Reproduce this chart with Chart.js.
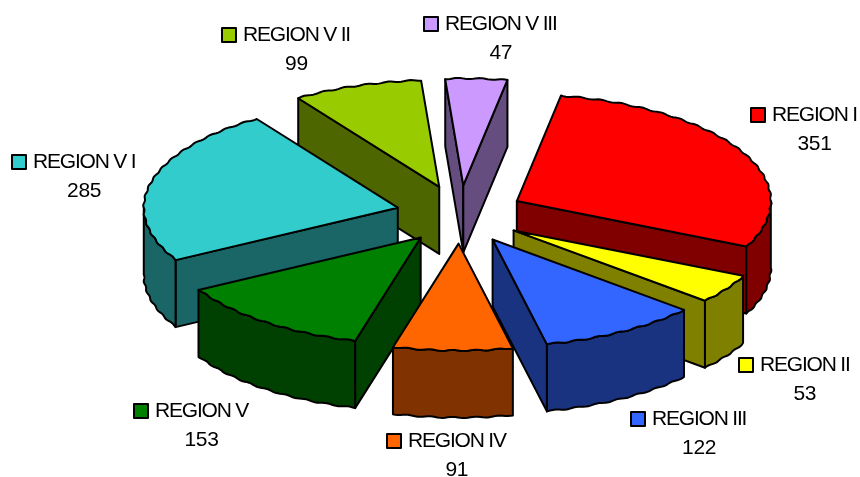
<!DOCTYPE html>
<html>
<head>
<meta charset="utf-8">
<title>Regiones</title>
<script src="https://cdn.jsdelivr.net/npm/chart.js@4/dist/chart.umd.min.js"></script>
<style>
    html, body { margin: 0; padding: 0; background: #fff; overflow: hidden; }
    canvas { display: block; }
</style>
</head>
<body>
<canvas id="regions-chart" width="860" height="477"></canvas>
<script>
    var categories = ['REGION I', 'REGION II', 'REGION III', 'REGION IV', 'REGION V', 'REGION V I', 'REGION V II', 'REGION V III'];
    var values = [351, 53, 122, 91, 153, 285, 99, 47];
    var sliceColors = ['#ff0000', '#ffff00', '#3366ff', '#ff6600', '#008000', '#33cccc', '#99cc00', '#cc99ff'];
    var wallColors = ['#800000', '#808000', '#1a3380', '#803300', '#004000', '#1a6666', '#4d6600', '#664d80'];
    // Top left corner of each legend square
    var labelCorners = [[751, 108], [739, 358], [631, 412], [387, 434], [134, 404], [12, 155], [222, 28], [424, 17]];

    var TILT = 0.421;          // squash of the pie plane
    var EXPLODE_TILT = 0.455;  // squash of the slice explosion
    var DEPTH = 67;            // wall height

    /**
     * Point on the top face of a slice (radius 0 is the slice apex)
     */
    function facePoint(arc, angle, radius, drop) {
        var mid = (arc.startAngle + arc.endAngle) / 2;
        var offset = arc.options.offset;
        var edge = radius > 0 ? Math.sin(angle * 70) * 0.6 : 0; // scalloped rim
        return {
            x: arc.x + Math.cos(mid) * offset + Math.cos(angle) * (radius + edge),
            y: arc.y + Math.sin(mid) * offset * EXPLODE_TILT + Math.sin(angle) * (radius * TILT + edge) + drop
        };
    }

    /**
     * Rim points between two angles
     */
    function rimPoints(arc, from, to, drop) {
        var points = [];
        var steps = Math.max(2, Math.ceil((to - from) / 0.01));
        for (var i = 0; i <= steps; i++) {
            points.push(facePoint(arc, from + (to - from) * i / steps, arc.outerRadius, drop));
        }
        return points;
    }

    function drawPolygon(ctx, points, fill) {
        ctx.beginPath();
        points.forEach(function(p, i) {
            if (i === 0) {
                ctx.moveTo(p.x, p.y);
            } else {
                ctx.lineTo(p.x, p.y);
            }
        });
        ctx.closePath();
        ctx.fillStyle = fill;
        ctx.fill();
        ctx.stroke();
    }

    function drawRadialWall(ctx, arc, angle, fill) {
        drawPolygon(ctx, [
            facePoint(arc, angle, 0, 0),
            facePoint(arc, angle, arc.outerRadius, 0),
            facePoint(arc, angle, arc.outerRadius, DEPTH),
            facePoint(arc, angle, 0, DEPTH)
        ], fill);
    }

    function drawSlice(ctx, arc, index) {
        var start = arc.startAngle;
        var end = arc.endAngle;
        var wall = wallColors[index];

        // Only the walls facing the viewer
        if (Math.cos(start) < 0) {
            drawRadialWall(ctx, arc, start, wall);
        }
        if (Math.cos(end) > 0) {
            drawRadialWall(ctx, arc, end, wall);
        }
        var low = Math.max(start, 0);
        var high = Math.min(end, Math.PI);
        if (high > low) {
            drawPolygon(ctx, rimPoints(arc, low, high, 0).concat(rimPoints(arc, low, high, DEPTH).reverse()), wall);
        }

        drawPolygon(ctx, [facePoint(arc, start, 0, 0)].concat(rimPoints(arc, start, end, 0)), arc.options.backgroundColor);
    }

    function drawLabels(ctx) {
        ctx.font = '21px "Liberation Sans"';
        ctx.textBaseline = 'alphabetic';
        categories.forEach(function(name, i) {
            var x = labelCorners[i][0];
            var y = labelCorners[i][1];

            ctx.lineWidth = 2;
            ctx.strokeStyle = '#000';
            ctx.fillStyle = sliceColors[i];
            ctx.fillRect(x, y, 14, 14);
            ctx.strokeRect(x, y, 14, 14);

            ctx.fillStyle = '#000';
            ctx.letterSpacing = '-1.2px';
            ctx.textAlign = 'left';
            ctx.fillText(name, x + 21, y + 13);
            var center = x + 21 + ctx.measureText(name).width / 2;
            ctx.letterSpacing = '-0.3px';
            ctx.textAlign = 'center';
            ctx.fillText(String(values[i]), center, y + 42);
        });
    }

    var pie3d = {
        id: 'pie3d',
        beforeDatasetsDraw: function(chart) {
            var ctx = chart.ctx;
            var arcs = chart.getDatasetMeta(0).data;

            // Paint from the back of the pie to the front
            var order = arcs.map(function(arc, i) { return i; });
            order.sort(function(a, b) {
                return Math.sin((arcs[a].startAngle + arcs[a].endAngle) / 2) - Math.sin((arcs[b].startAngle + arcs[b].endAngle) / 2);
            });

            ctx.save();
            ctx.lineWidth = 2;
            ctx.lineJoin = 'round';
            ctx.strokeStyle = '#000';
            order.forEach(function(i) {
                drawSlice(ctx, arcs[i], i);
            });
            drawLabels(ctx);
            ctx.restore();
            return false;
        }
    };

    new Chart(document.getElementById('regions-chart').getContext('2d'), {
        type: 'pie',
        data: {
            labels: categories,
            datasets: [{
                data: values,
                backgroundColor: sliceColors,
                offset: 64
            }]
        },
        options: {
            responsive: false,
            animation: false,
            rotation: 10,
            radius: 254,
            layout: { padding: { left: 60, bottom: 48 } },
            plugins: {
                legend: { display: false },
                tooltip: { enabled: false }
            }
        },
        plugins: [pie3d]
    });
</script>
</body>
</html>
